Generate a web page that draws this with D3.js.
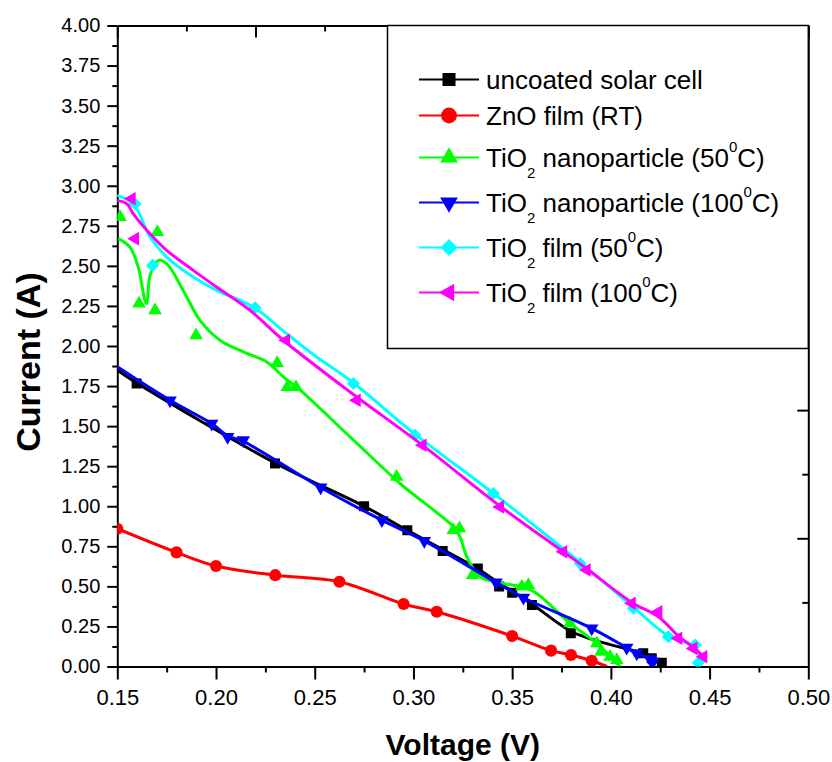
<!DOCTYPE html>
<html>
<head>
<meta charset="utf-8">
<script src="https://cdn.jsdelivr.net/npm/d3@7"></script>
<style>
  body { margin: 0; background: #fff; }
  svg { display: block; font-family: Arial, "Liberation Sans", sans-serif; }
  .axis path, .axis line { stroke: #000; stroke-width: 2; }
  .axis text { fill: #000; }
</style>
</head>
<body>
<div id="chart"></div>
<script>
// tick labels
const xTicks = [0.15, 0.20, 0.25, 0.30, 0.35, 0.40, 0.45, 0.50];
const yTicks = [0, 0.25, 0.5, 0.75, 1, 1.25, 1.5, 1.75, 2, 2.25, 2.5, 2.75, 3, 3.25, 3.5, 3.75, 4];

// measured points [voltage, current]
const uncoatedPts = [[0.1598, 1.766], [0.2299, 1.267], [0.275, 1.00], [0.2969, 0.851], [0.3148, 0.72],
  [0.3326, 0.612], [0.3434, 0.50], [0.350, 0.46], [0.360, 0.383], [0.3797, 0.207], [0.4164, 0.083],
  [0.4207, 0.051], [0.4258, 0.024]];
const znoPts = [[0.150, 0.86], [0.180, 0.712], [0.200, 0.627], [0.230, 0.57], [0.2625, 0.529], [0.295, 0.39],
  [0.3118, 0.342], [0.350, 0.19], [0.3697, 0.099], [0.3798, 0.072], [0.3903, 0.036]];
const nano50Pts = [[0.1514, 2.805], [0.1703, 2.711], [0.161, 2.264], [0.1691, 2.223], [0.1899, 2.067],
  [0.231, 1.894], [0.2361, 1.744], [0.2405, 1.744], [0.2915, 1.183], [0.3202, 0.851], [0.3233, 0.862],
  [0.330, 0.57], [0.3549, 0.498], [0.3582, 0.508], [0.3793, 0.269], [0.3929, 0.145], [0.395, 0.092],
  [0.3996, 0.061], [0.403, 0.04]];
const nano100Pts = [[0.1767, 1.661], [0.1978, 1.516], [0.2059, 1.433], [0.2138, 1.412], [0.253, 1.117],
  [0.284, 0.913], [0.3055, 0.784], [0.3418, 0.525], [0.3557, 0.429], [0.3903, 0.238], [0.408, 0.117],
  [0.4131, 0.082], [0.4199, 0.045], [0.4214, 0.03]];
const film50Pts = [[0.159, 2.888], [0.1679, 2.503], [0.2198, 2.239], [0.2696, 1.766], [0.3008, 1.443],
  [0.3405, 1.08], [0.3844, 0.643], [0.4114, 0.363], [0.4291, 0.186], [0.4427, 0.134], [0.4443, 0.024]];
const film100Pts = [[0.1573, 2.919], [0.159, 2.67], [0.2355, 2.036], [0.2713, 1.661], [0.3047, 1.381],
  [0.3439, 0.996], [0.3759, 0.716], [0.3878, 0.602], [0.4106, 0.394], [0.4241, 0.342], [0.4342, 0.176],
  [0.4418, 0.113], [0.4469, 0.061]];

// smoothed connecting curves as drawn in the figure (B-spline, not through every point)
const uncoatedCurve = [[0.15, 1.85], [0.1598, 1.77], [0.2299, 1.27], [0.275, 1.0], [0.2969, 0.85],
  [0.3148, 0.73], [0.3326, 0.61], [0.3434, 0.52], [0.350, 0.47], [0.360, 0.39], [0.3797, 0.22],
  [0.393, 0.16], [0.408, 0.11], [0.4164, 0.083], [0.4207, 0.051], [0.4258, 0.024]];
const znoCurve = [[0.150, 0.86], [0.180, 0.712], [0.200, 0.627], [0.230, 0.57], [0.2625, 0.529],
  [0.295, 0.39], [0.3118, 0.342], [0.350, 0.19], [0.3697, 0.099], [0.3798, 0.072], [0.3903, 0.036],
  [0.398, 0.0]];
const nano50Curve = [[0.1505, 2.67], [0.1564, 2.617], [0.1606, 2.493], [0.164, 2.285], [0.1649, 2.264],
  [0.1666, 2.44], [0.1708, 2.534], [0.175, 2.514], [0.1834, 2.347], [0.1919, 2.16], [0.202, 2.036],
  [0.2138, 1.963], [0.2257, 1.90], [0.2341, 1.807], [0.2426, 1.724], [0.2679, 1.433], [0.2932, 1.142],
  [0.3202, 0.872], [0.3236, 0.809], [0.327, 0.685], [0.3337, 0.56], [0.345, 0.52], [0.3597, 0.477],
  [0.3793, 0.269], [0.3929, 0.145], [0.4046, 0.0]];
const nano100Curve = [[0.15, 1.87], [0.1767, 1.661], [0.1978, 1.516], [0.2059, 1.44], [0.2138, 1.405],
  [0.253, 1.117], [0.284, 0.913], [0.3055, 0.784], [0.3418, 0.525], [0.3557, 0.429], [0.3903, 0.238],
  [0.408, 0.117], [0.4131, 0.082], [0.4199, 0.045], [0.4214, 0.03]];
const film50Curve = [[0.1497, 2.94], [0.1581, 2.888], [0.1666, 2.68], [0.175, 2.555], [0.1885, 2.43],
  [0.2003, 2.347], [0.2189, 2.243], [0.2358, 2.077], [0.251, 1.931], [0.2679, 1.786], [0.3008, 1.45],
  [0.3405, 1.08], [0.3844, 0.65], [0.4114, 0.37], [0.4291, 0.19], [0.4427, 0.12], [0.4453, 0.02]];
const film100Curve = [[0.1497, 2.908], [0.1548, 2.888], [0.1581, 2.825], [0.1666, 2.70], [0.175, 2.597],
  [0.1885, 2.472], [0.2003, 2.368], [0.2172, 2.223], [0.2341, 2.036], [0.2679, 1.713], [0.3047, 1.38],
  [0.3439, 1.0], [0.3759, 0.716], [0.3878, 0.61], [0.4106, 0.40], [0.4241, 0.31], [0.4342, 0.19],
  [0.4418, 0.12], [0.4469, 0.06]];

// legend labels: [text, 'sub' | 'sup' | undefined]
const legendLabels = [
  [['uncoated solar cell']],
  [['ZnO film (RT)']],
  [['TiO'], ['2', 'sub'], [' nanoparticle (50'], ['0', 'sup'], ['C)']],
  [['TiO'], ['2', 'sub'], [' nanoparticle (100'], ['0', 'sup'], ['C)']],
  [['TiO'], ['2', 'sub'], [' film (50'], ['0', 'sup'], ['C)']],
  [['TiO'], ['2', 'sub'], [' film (100'], ['0', 'sup'], ['C)']],
];

const series = [
  { pts: uncoatedPts, curve: uncoatedCurve, color: '#000000', symbol: d3.symbolSquare, rot: 0, size: 100 },
  { pts: znoPts, curve: znoCurve, color: '#ff0000', symbol: d3.symbolCircle, rot: 0, size: 115 },
  { pts: nano50Pts, curve: nano50Curve, color: '#00ff00', symbol: d3.symbolTriangle, rot: 0, size: 80 },
  { pts: nano100Pts, curve: nano100Curve, color: '#0000ff', symbol: d3.symbolTriangle, rot: 180, size: 80 },
  { pts: film50Pts, curve: film50Curve, color: '#00ffff', symbol: d3.symbolSquare, rot: 45, size: 85 },
  { pts: film100Pts, curve: film100Curve, color: '#ff00ff', symbol: d3.symbolTriangle, rot: -90, size: 80 },
];

const width = 832;
const height = 762;
const margin = { top: 25.5, right: 23.7, bottom: 95.5, left: 117.3 };

const svg = d3.select('#chart').append('svg')
  .attr('width', width)
  .attr('height', height);

const x = d3.scaleLinear().domain([0.15, 0.50]).range([margin.left, width - margin.right]);
const y = d3.scaleLinear().domain([0, 4]).range([height - margin.bottom, margin.top]);

// the top and right axes are linked with 5 unlabelled divisions
const xTop = d3.scaleLinear().domain([0, 5]).range(x.range());
const yRight = d3.scaleLinear().domain([0, 5]).range(y.range());

const minorX = d3.range(0.175, 0.5, 0.05);
const minorY = d3.range(0.125, 4, 0.25);

// minor ticks first, so the major axes sit on top
svg.append('g').attr('class', 'axis')
  .attr('transform', `translate(${margin.left},0)`)
  .call(d3.axisLeft(y).tickValues(minorY).tickSize(5).tickFormat(''))
  .call(g => g.select('.domain').remove());
svg.append('g').attr('class', 'axis')
  .attr('transform', `translate(0,${y(0)})`)
  .call(d3.axisBottom(x).tickValues(minorX).tickSize(6).tickFormat(''))
  .call(g => g.select('.domain').remove());
svg.append('g').attr('class', 'axis')
  .attr('transform', `translate(0,${margin.top})`)
  .call(d3.axisTop(xTop).tickValues(d3.range(0.5, 5, 1)).tickSize(-6).tickFormat(''))
  .call(g => g.select('.domain').remove());
svg.append('g').attr('class', 'axis')
  .attr('transform', `translate(${x(0.5)},0)`)
  .call(d3.axisRight(yRight).tickValues(d3.range(0.5, 5, 1)).tickSize(-6).tickFormat(''))
  .call(g => g.select('.domain').remove());

svg.append('g').attr('class', 'axis')
  .attr('transform', `translate(0,${margin.top})`)
  .call(d3.axisTop(xTop).ticks(5).tickSize(-12).tickSizeOuter(0).tickFormat(''));
svg.append('g').attr('class', 'axis')
  .attr('transform', `translate(${x(0.5)},0)`)
  .call(d3.axisRight(yRight).ticks(5).tickSize(-11).tickSizeOuter(0).tickFormat(''));

svg.append('g').attr('class', 'axis')
  .attr('transform', `translate(${margin.left},0)`)
  .call(d3.axisLeft(y).tickValues(yTicks).tickSize(10).tickSizeOuter(0).tickPadding(7)
    .tickFormat(d3.format('.2f')))
  .call(g => g.selectAll('text').attr('font-size', 20));
svg.append('g').attr('class', 'axis')
  .attr('transform', `translate(0,${y(0)})`)
  .call(d3.axisBottom(x).tickValues(xTicks).tickSize(13).tickSizeOuter(0).tickPadding(10)
    .tickFormat(d3.format('.2f')))
  .call(g => g.selectAll('text').attr('font-size', 22));

// axis titles
svg.append('text')
  .attr('transform', `translate(40,${(y(0) + y(4)) / 2 + 16}) rotate(-90)`)
  .attr('text-anchor', 'middle')
  .attr('font-size', 34)
  .attr('font-weight', 'bold')
  .text('Current (A)');
svg.append('text')
  .attr('x', (x(0.15) + x(0.5)) / 2)
  .attr('y', 755)
  .attr('text-anchor', 'middle')
  .attr('font-size', 30)
  .attr('font-weight', 'bold')
  .text('Voltage (V)');

// legend box (drawn under the data, the frame covers the plot corner)
const legend = svg.append('g');
legend.append('rect')
  .attr('x', 387.5)
  .attr('y', margin.top)
  .attr('width', x(0.5) - 387.5)
  .attr('height', 323)
  .attr('fill', '#fff')
  .attr('stroke', '#000')
  .attr('stroke-width', 1.5);

// data
svg.append('clipPath').attr('id', 'plot-clip')
  .append('rect')
  .attr('x', x(0.15))
  .attr('y', y(4))
  .attr('width', x(0.5) - x(0.15))
  .attr('height', y(0) - y(4));

const plot = svg.append('g').attr('clip-path', 'url(#plot-clip)');
const line = d3.line()
  .x(d => x(d[0]))
  .y(d => y(d[1]))
  .curve(d3.curveCatmullRom.alpha(0.5));

series.forEach((s) => {
  const g = plot.append('g');
  g.append('path')
    .attr('d', line(s.curve))
    .attr('fill', 'none')
    .attr('stroke', s.color)
    .attr('stroke-width', 3)
    .attr('stroke-linejoin', 'round');
  g.selectAll('path.marker').data(s.pts).enter().append('path')
    .attr('class', 'marker')
    .attr('d', d3.symbol(s.symbol, s.size))
    .attr('transform', d => `translate(${x(d[0])},${y(d[1])}) rotate(${s.rot})`)
    .attr('fill', s.color);
});

// legend entries
const legendY = [89, 125, 167, 212, 257, 302];
series.forEach((s, i) => {
  const cy = legendY[i] - 9.5;
  legend.append('line')
    .attr('x1', 419).attr('x2', 479)
    .attr('y1', cy).attr('y2', cy)
    .attr('stroke', s.color)
    .attr('stroke-width', 2);
  legend.append('path')
    .attr('d', d3.symbol(s.symbol, s.size * 1.7))
    .attr('transform', `translate(449,${cy}) rotate(${s.rot})`)
    .attr('fill', s.color);

  const text = legend.append('text')
    .attr('x', 486)
    .attr('y', legendY[i])
    .attr('font-size', 26);
  let shift = 0;
  legendLabels[i].forEach(([str, kind]) => {
    let target = 0;
    if (kind === 'sub') target = 11;
    if (kind === 'sup') target = -15;
    text.append('tspan')
      .attr('dy', target - shift)
      .attr('font-size', kind ? 15 : 26)
      .text(str);
    shift = target;
  });
});
</script>
</body>
</html>
